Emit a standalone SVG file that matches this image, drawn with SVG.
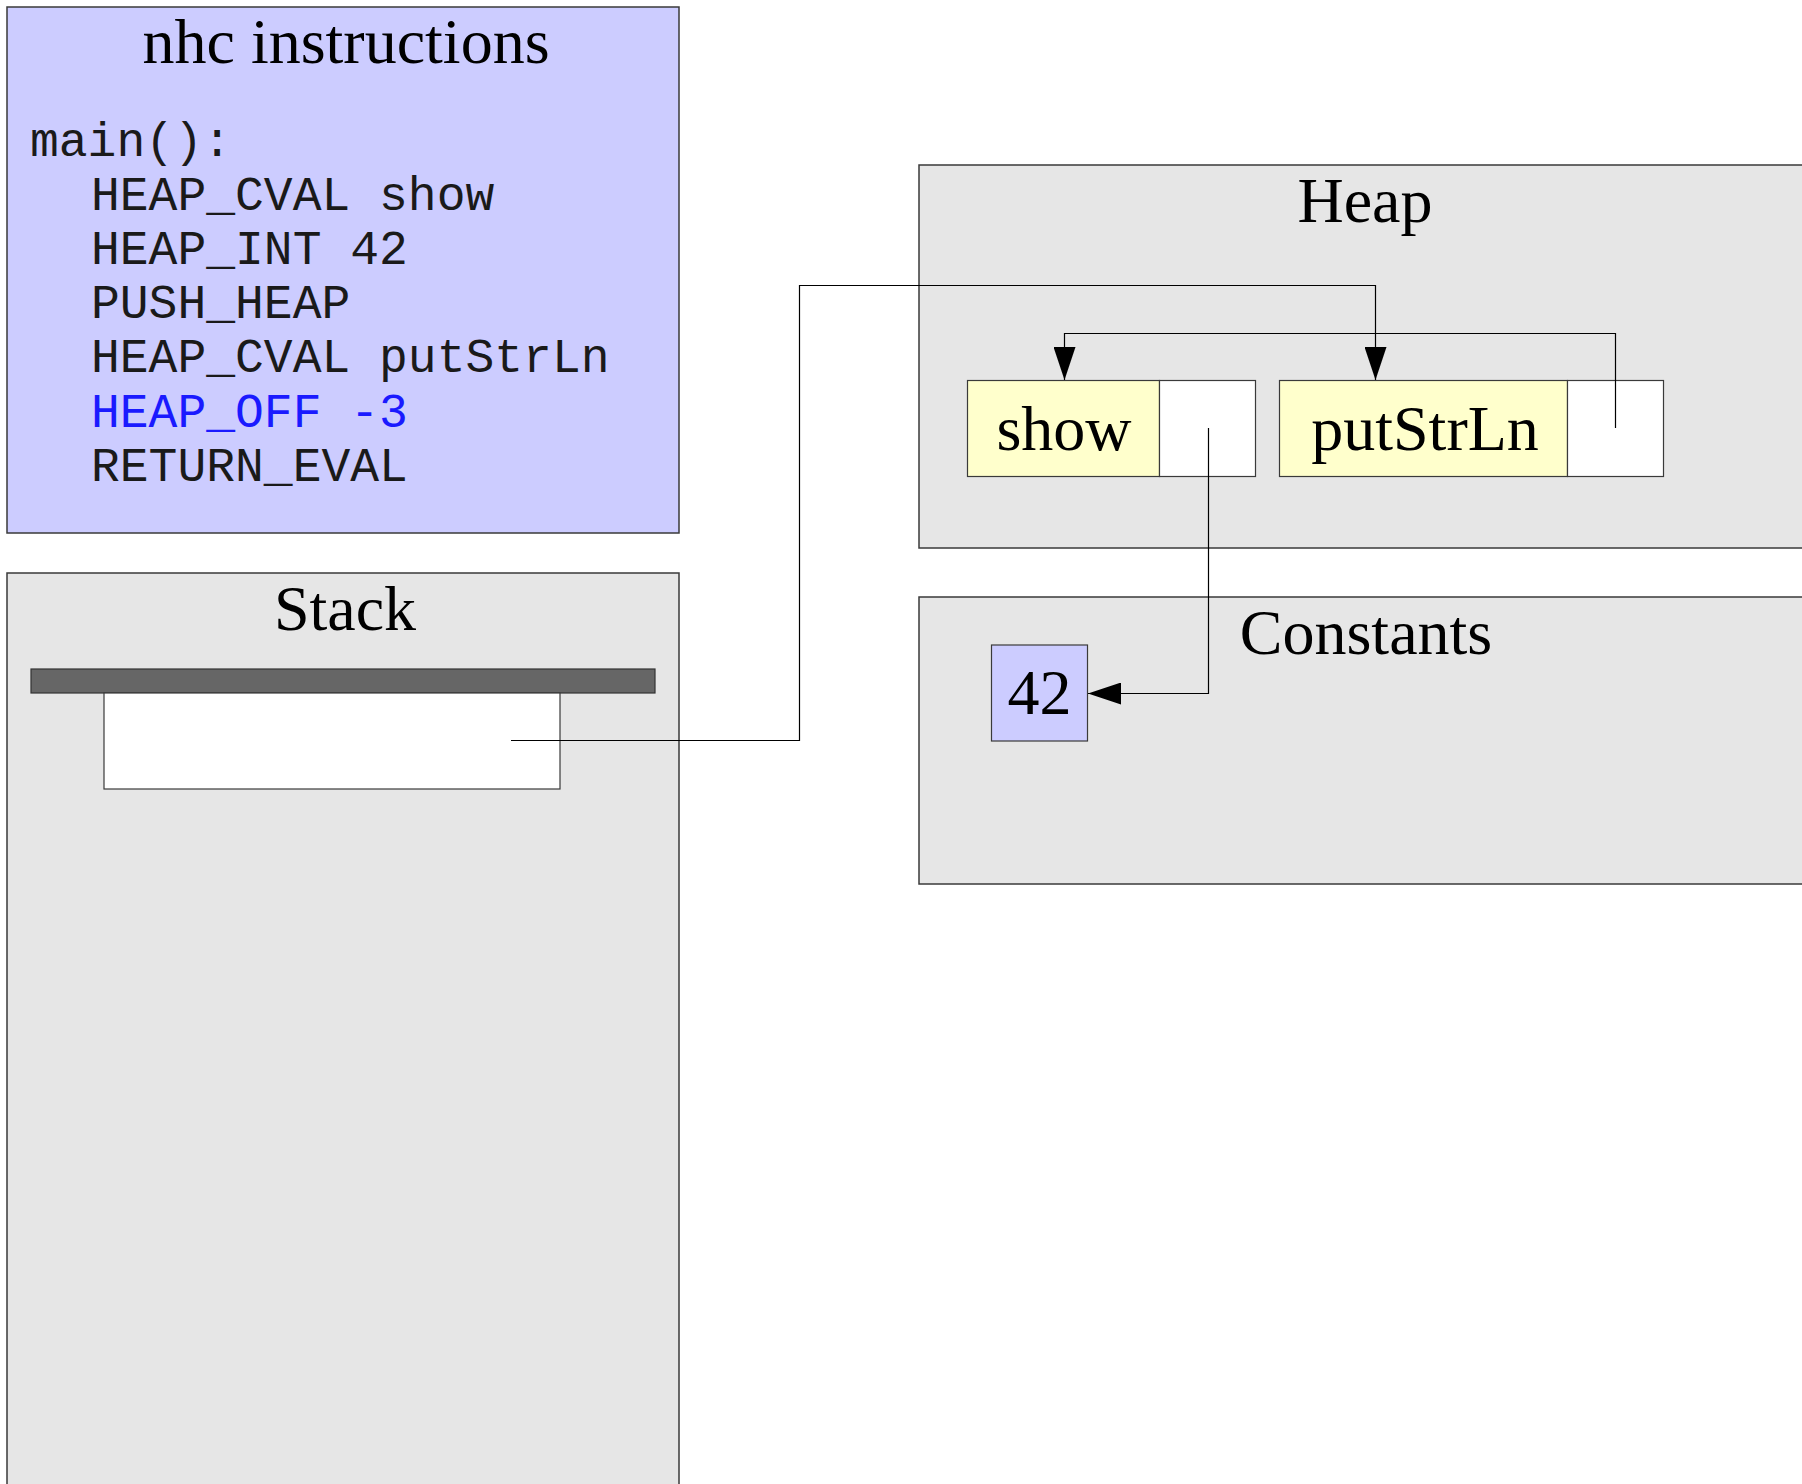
<svg xmlns="http://www.w3.org/2000/svg" width="1802" height="1484" viewBox="0 0 1802 1484">
  <style>
    .panel { fill: #e6e6e6; stroke: #3a3a3a; stroke-width: 1.5; }
    .code-panel { fill: #ccccff; stroke: #3a3a3a; stroke-width: 1.5; }
    .title { font-family: "Liberation Serif", "Times New Roman", serif; font-size: 64px; fill: #000; text-anchor: middle; }
    .code { font-family: "Liberation Mono", "Courier New", monospace; font-size: 48px; fill: #1a1a1a; }
    .code.hl { fill: #1a1aff; }
    .cell-name { fill: #ffffcc; stroke: #3a3a3a; stroke-width: 1.2; }
    .cell-ptr { fill: #ffffff; stroke: #3a3a3a; stroke-width: 1.2; }
    .const { fill: #ccccff; stroke: #3a3a3a; stroke-width: 1.2; }
    .wire { fill: none; stroke: #000; stroke-width: 1.2; }
  </style>
  <defs>
    <marker id="arrow" viewBox="0 0 33 22" refX="33" refY="11" markerWidth="33" markerHeight="22" markerUnits="userSpaceOnUse" orient="auto">
      <path d="M0,0 L33,11 L0,22 Z" fill="#000"/>
    </marker>
  </defs>

  <rect width="1802" height="1484" fill="#ffffff"/>

  <!-- instruction listing -->
  <g id="instructions">
    <rect class="code-panel" x="7" y="7" width="672" height="526"/>
    <text class="title" x="346" y="63">nhc instructions</text>
    <text class="code" x="30" y="156">main():</text>
    <text class="code" x="91" y="210">HEAP_CVAL show</text>
    <text class="code" x="91" y="264">HEAP_INT 42</text>
    <text class="code" x="91" y="318">PUSH_HEAP</text>
    <text class="code" x="91" y="372">HEAP_CVAL putStrLn</text>
    <text class="code hl" x="91" y="427">HEAP_OFF -3</text>
    <text class="code" x="91" y="481">RETURN_EVAL</text>
  </g>

  <!-- stack -->
  <g id="stack">
    <rect class="panel" x="7" y="573" width="672" height="930"/>
    <text class="title" x="345" y="630">Stack</text>
    <rect x="31" y="669" width="624" height="24" fill="#666666" stroke="#333" stroke-width="1.2"/>
    <rect id="stack-slot" x="104" y="693" width="456" height="96" fill="#ffffff" stroke="#3a3a3a" stroke-width="1.2"/>
  </g>

  <!-- heap -->
  <g id="heap">
    <rect class="panel" x="919" y="165" width="900" height="383"/>
    <text class="title" x="1365" y="222">Heap</text>
  </g>
  <g id="heap-show">
    <rect class="cell-name" x="967.5" y="380.5" width="192" height="96"/>
    <rect class="cell-ptr" x="1159.5" y="380.5" width="96" height="96"/>
    <text class="title" x="1064" y="450">show</text>
  </g>
  <g id="heap-putStrLn">
    <rect class="cell-name" x="1279.5" y="380.5" width="288" height="96"/>
    <rect class="cell-ptr" x="1567.5" y="380.5" width="96" height="96"/>
    <text class="title" x="1425" y="450">putStrLn</text>
  </g>

  <!-- constants -->
  <g id="constants">
    <rect class="panel" x="919" y="597" width="900" height="287"/>
    <text class="title" x="1366" y="654">Constants</text>
  </g>
  <g id="const-42">
    <rect class="const" x="991.5" y="645" width="96" height="96"/>
    <text class="title" x="1039.5" y="714">42</text>
  </g>

  <!-- pointers -->
  <g id="connectors">
    <path class="wire" d="M511,740.5 H799.5 V285.5 H1375.5 V380" marker-end="url(#arrow)"/>
    <path class="wire" d="M1615.5,428 V333.5 H1064.5 V380" marker-end="url(#arrow)"/>
    <path class="wire" d="M1208.5,428 V693.5 H1088" marker-end="url(#arrow)"/>
  </g>
</svg>
